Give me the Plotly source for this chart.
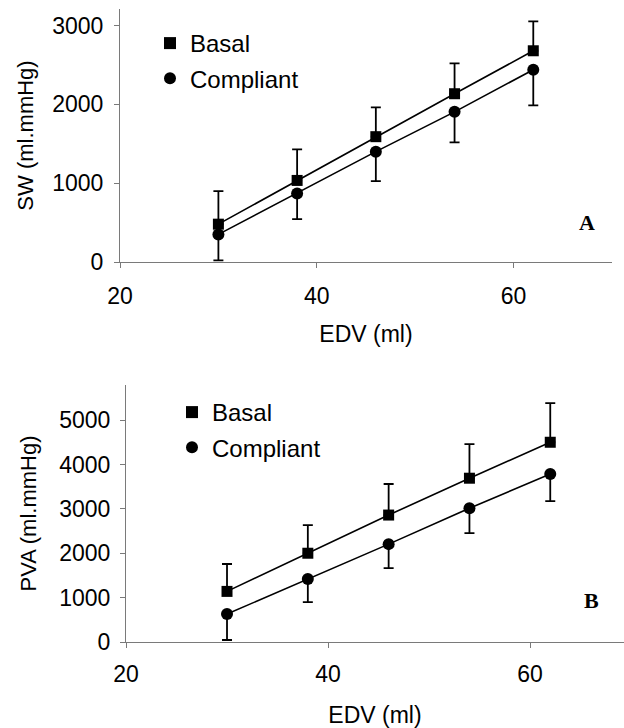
import plotly.graph_objects as go

# ---- data ----
EDV = [30, 38, 46, 54, 62]

SW_basal = [480, 1035, 1590, 2135, 2680]
SW_basal_err = [420, 395, 372, 384, 372]
SW_comp = [350, 870, 1400, 1905, 2440]
SW_comp_err = [330, 326, 375, 386, 453]

PVA_basal = [1140, 2000, 2860, 3690, 4500]
PVA_basal_err = [617, 635, 700, 770, 880]
PVA_comp = [630, 1420, 2205, 3015, 3785]
PVA_comp_err = [585, 520, 540, 560, 610]

X_TICKS = [20, 40, 60]
SW_TICKS = [0, 1000, 2000, 3000]
PVA_TICKS = [0, 1000, 2000, 3000, 4000, 5000]

W, H = 624, 728
FONT = "Liberation Sans, Arial, sans-serif"
AX = "#7a7a7a"

fig = go.Figure()


def add_panel(xa, ya, basal, berr, comp, cerr, legend):
    xs = "x" if xa == 1 else f"x{xa}"
    ys = "y" if ya == 1 else f"y{ya}"
    for yv in (basal, comp):
        fig.add_trace(go.Scatter(x=EDV, y=yv, mode="lines", xaxis=xs, yaxis=ys,
                                 line=dict(color="black", width=1.6),
                                 showlegend=False, hoverinfo="skip"))
    fig.add_trace(go.Scatter(
        x=EDV, y=basal, mode="markers", name="Basal", xaxis=xs, yaxis=ys,
        legend=legend, legendgroup=legend + "b",
        marker=dict(symbol="square", size=11, color="black"),
        error_y=dict(type="data", array=berr, arrayminus=[0] * len(berr),
                     symmetric=False, color="black", thickness=1.8, width=5)))
    fig.add_trace(go.Scatter(
        x=EDV, y=comp, mode="markers", name="Compliant", xaxis=xs, yaxis=ys,
        legend=legend, legendgroup=legend + "c",
        marker=dict(symbol="circle", size=12, color="black"),
        error_y=dict(type="data", array=[0] * len(cerr), arrayminus=cerr,
                     symmetric=False, color="black", thickness=1.8, width=5)))


add_panel(1, 1, SW_basal, SW_basal_err, SW_comp, SW_comp_err, "legend")
add_panel(2, 2, PVA_basal, PVA_basal_err, PVA_comp, PVA_comp_err, "legend2")


def px_x(p):
    return p / W


def px_y(p):
    return 1 - p / H


axis_common = dict(showgrid=False, zeroline=False, showline=True, linecolor=AX,
                   linewidth=1, ticks="outside", ticklen=5, tickcolor=AX,
                   automargin=False,
                   tickfont=dict(family=FONT, size=23, color="black"))

fig.update_layout(
    width=W, height=H, margin=dict(l=0, r=0, t=0, b=0, pad=0),
    paper_bgcolor="white", plot_bgcolor="white",
    font=dict(family=FONT, color="black"),
    xaxis=dict(domain=[px_x(120), px_x(612)], range=[20, 70], tickvals=X_TICKS,
               anchor="y", ticklabelstandoff=8,
               title=dict(text="EDV (ml)", font=dict(size=23), standoff=18),
               **axis_common),
    yaxis=dict(domain=[px_y(262), px_y(9)], range=[0, 3210], tickvals=SW_TICKS,
               anchor="x", ticklabelstandoff=6,
               title=dict(text="SW (ml.mmHg)", font=dict(size=22), standoff=12),
               **axis_common),
    xaxis2=dict(domain=[px_x(126), 1.0], range=[20, 69.3], tickvals=X_TICKS,
                anchor="y2", ticklabelstandoff=6,
                title=dict(text="EDV (ml)", font=dict(size=23), standoff=23),
                **axis_common),
    yaxis2=dict(domain=[px_y(642), px_y(385)], range=[0, 5790], tickvals=PVA_TICKS,
                anchor="x2", ticklabelstandoff=5,
                title=dict(text="PVA (ml.mmHg)", font=dict(size=22), standoff=16),
                **axis_common),
    legend=dict(x=px_x(150), y=px_y(21), xanchor="left", yanchor="top",
                font=dict(family=FONT, size=24), bgcolor="rgba(0,0,0,0)",
                tracegroupgap=1, itemsizing="constant"),
    legend2=dict(x=px_x(172), y=px_y(390), xanchor="left", yanchor="top",
                 font=dict(family=FONT, size=24), bgcolor="rgba(0,0,0,0)",
                 tracegroupgap=1, itemsizing="constant"),
    annotations=[
        dict(text="<b>A</b>", x=px_x(587), y=px_y(222), xref="paper", yref="paper",
             xanchor="center", yanchor="middle", showarrow=False,
             font=dict(family="Liberation Serif, Times New Roman, serif", size=22)),
        dict(text="<b>B</b>", x=px_x(591), y=px_y(600), xref="paper", yref="paper",
             xanchor="center", yanchor="middle", showarrow=False,
             font=dict(family="Liberation Serif, Times New Roman, serif", size=22)),
    ],
)

fig.write_html("out.html", config={"displayModeBar": False},
               post_script="document.body.style.margin='0px';")
